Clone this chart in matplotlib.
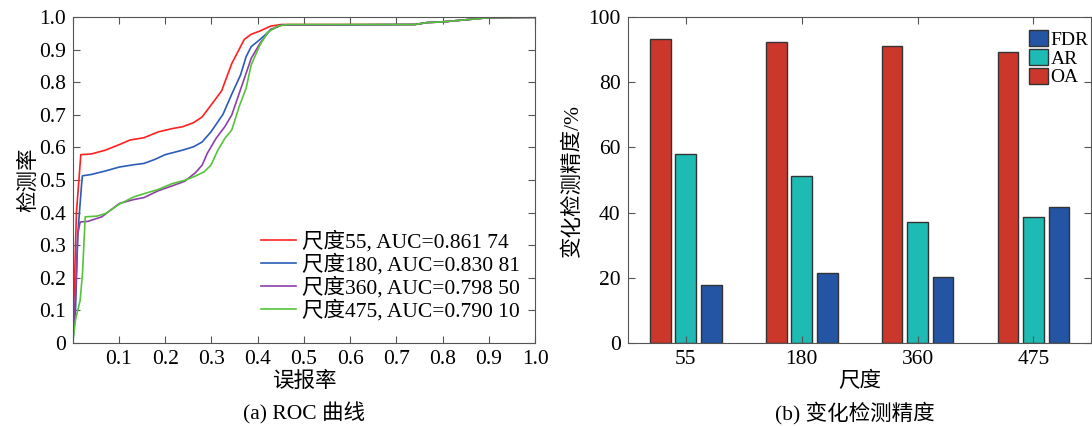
import numpy as np
import matplotlib.pyplot as plt

plt.rcParams['font.family'] = ['Liberation Serif', 'Noto Sans CJK SC']
plt.rcParams['font.size'] = 15.5
plt.rcParams['axes.edgecolor'] = '#555555'
plt.rcParams['xtick.color'] = '#555555'
plt.rcParams['ytick.color'] = '#555555'
plt.rcParams['xtick.labelcolor'] = 'black'
plt.rcParams['ytick.labelcolor'] = 'black'

# ROC 曲线
fpr_55 = [0, 0.004, 0.008, 0.0175, 0.04, 0.071, 0.101, 0.124, 0.154, 0.185, 0.215, 0.238, 0.261,
          0.28, 0.299, 0.322, 0.344, 0.371, 0.386, 0.405, 0.428, 0.451, 0.74, 0.767, 0.80, 0.846, 0.90, 1.0]
tpr_55 = [0, 0.2, 0.40, 0.578, 0.58, 0.592, 0.609, 0.623, 0.630, 0.648, 0.658, 0.664, 0.676,
          0.694, 0.730, 0.774, 0.858, 0.932, 0.948, 0.958, 0.973, 0.978, 0.978, 0.984, 0.986, 0.992, 0.999, 1.0]

fpr_180 = [0, 0.006, 0.011, 0.019, 0.021, 0.04, 0.071, 0.101, 0.132, 0.154, 0.177, 0.2, 0.238, 0.261,
           0.28, 0.299, 0.325, 0.344, 0.363, 0.375, 0.386, 0.405, 0.428, 0.451, 0.74, 0.767, 0.80, 0.846, 0.90, 1.0]
tpr_180 = [0, 0.1, 0.335, 0.484, 0.513, 0.517, 0.528, 0.540, 0.547, 0.551, 0.563, 0.578, 0.592, 0.602,
           0.617, 0.648, 0.702, 0.764, 0.823, 0.879, 0.91, 0.932, 0.961, 0.976, 0.978, 0.984, 0.986, 0.992, 0.999, 1.0]

fpr_360 = [0, 0.006, 0.011, 0.016, 0.033, 0.063, 0.101, 0.132, 0.154, 0.185, 0.215, 0.242, 0.265,
           0.28, 0.291, 0.310, 0.329, 0.344, 0.36, 0.375, 0.386, 0.405, 0.428, 0.451, 0.74, 0.767, 0.80, 0.846, 0.90, 1.0]
tpr_360 = [0, 0.15, 0.335, 0.371, 0.373, 0.387, 0.428, 0.44, 0.446, 0.467, 0.482, 0.496, 0.522,
           0.546, 0.582, 0.628, 0.664, 0.70, 0.766, 0.828, 0.874, 0.92, 0.963, 0.976, 0.978, 0.984, 0.986, 0.992, 0.999, 1.0]

fpr_475 = [0, 0.006, 0.016, 0.021, 0.027, 0.052, 0.071, 0.101, 0.132, 0.154, 0.185, 0.215, 0.242, 0.265,
           0.284, 0.299, 0.314, 0.329, 0.344, 0.36, 0.375, 0.386, 0.405, 0.421, 0.443, 0.466, 0.74, 0.767, 0.80, 0.846, 0.90, 1.0]
tpr_475 = [0, 0.07, 0.13, 0.21, 0.387, 0.389, 0.397, 0.426, 0.448, 0.458, 0.471, 0.489, 0.499, 0.512,
           0.525, 0.546, 0.592, 0.628, 0.654, 0.726, 0.782, 0.854, 0.915, 0.953, 0.973, 0.978, 0.978, 0.984, 0.986, 0.992, 0.999, 1.0]

roc_labels = ['尺度55, AUC=0.861 74', '尺度180, AUC=0.830 81',
              '尺度360, AUC=0.798 50', '尺度475, AUC=0.790 10']
roc_colors = ['#ff2020', '#2a5cb8', '#8e3fa8', '#55c43a']

# 变化检测精度
scales = ['55', '180', '360', '475']
oa = [93.3, 92.3, 91.3, 89.2]
ar = [57.9, 51.3, 37.2, 38.7]
fdr = [17.6, 21.5, 20.3, 41.7]

fig = plt.figure(figsize=(10.92, 4.26), dpi=100)

ax1 = fig.add_axes([0.0666, 0.1955, 0.4234, 0.7638])
curves = [(fpr_55, tpr_55), (fpr_180, tpr_180), (fpr_360, tpr_360), (fpr_475, tpr_475)]
for (x, y), lab, c in zip(curves, roc_labels, roc_colors):
    ax1.plot(x, y, color=c, lw=1.2, label=lab)
ax1.set_xlim(0, 1)
ax1.set_ylim(0, 1)
ax1.set_xticks(np.arange(0, 1.01, 0.1))
ax1.set_xticklabels([''] + ['%.1f' % v for v in np.arange(0.1, 1.01, 0.1)])
ax1.set_yticks(np.arange(0, 1.01, 0.1))
ax1.set_yticklabels(['0'] + ['%.1f' % v for v in np.arange(0.1, 1.01, 0.1)])
ax1.tick_params(direction='in', top=True, right=True, length=5, pad=5)
ax1.set_xlabel('误报率', labelpad=2)
ax1.set_ylabel('检测率', labelpad=0)
ax1.legend(loc='lower right', frameon=False, handlelength=1.6, handletextpad=0.3,
           labelspacing=0.05, borderaxespad=0.3, bbox_to_anchor=(1.0, 0.02))
fig.text(0.278, 0.03, '(a) ROC 曲线', ha='center', va='center')

ax2 = fig.add_axes([0.5748, 0.1955, 0.4247, 0.7638])
pos = np.arange(1, len(scales) + 1)
w = 0.18
d = 0.22
ec = '#333333'
b_oa = ax2.bar(pos - d, oa, w, color='#cc372c', edgecolor=ec, lw=1)
b_ar = ax2.bar(pos, ar, w, color='#1ebbb4', edgecolor=ec, lw=1)
b_fdr = ax2.bar(pos + d, fdr, w, color='#2455a4', edgecolor=ec, lw=1)
ax2.set_xlim(0.5, 4.5)
ax2.set_ylim(0, 100)
ax2.set_xticks(pos)
ax2.set_xticklabels(scales)
ax2.set_yticks(np.arange(0, 101, 20))
ax2.tick_params(direction='in', top=True, right=True, length=5, pad=5)
ax2.set_xlabel('尺度', labelpad=2)
ax2.set_ylabel('变化检测精度/%', labelpad=4)
ax2.legend([b_fdr, b_ar, b_oa], ['FDR', 'AR', 'OA'], loc='upper right', frameon=False,
           fontsize=14, handlelength=1.0, handleheight=0.9, handletextpad=0.12,
           labelspacing=0.0, borderaxespad=0.0, bbox_to_anchor=(1.01, 0.985))
fig.text(0.783, 0.03, '(b) 变化检测精度', ha='center', va='center')

fig.savefig('out.png', dpi=100)
